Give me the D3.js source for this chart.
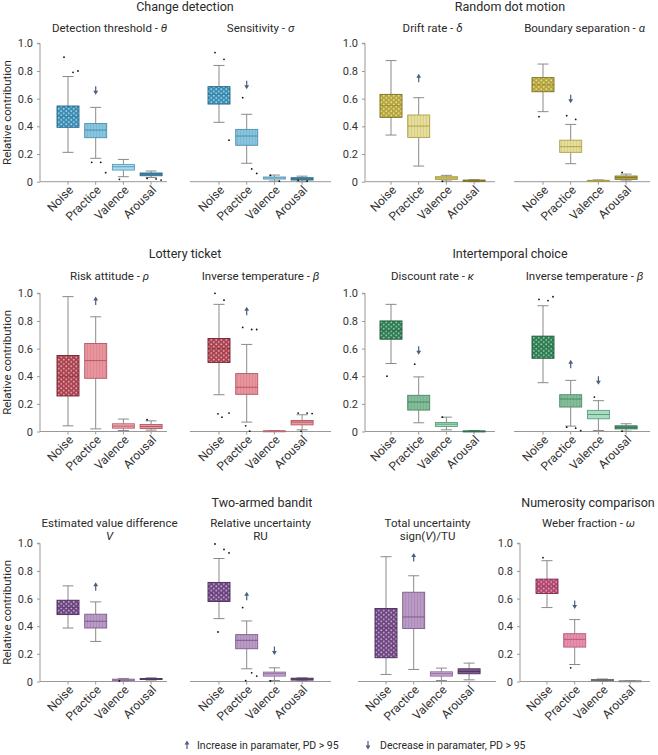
<!DOCTYPE html>
<html><head><meta charset="utf-8">
<script src="https://cdn.jsdelivr.net/npm/d3@7"></script>
<style>
body{margin:0;background:#fff;}
svg{display:block;font-family:Roboto,"Noto Sans",sans-serif;}
</style></head>
<body>
<script>
// ---------- DATA ----------
const categories = ["Noise","Practice","Valence","Arousal"];
const yTicks = [0,0.2,0.4,0.6,0.8,1.0];
const yTickLabels = ["0","0.2","0.4","0.6","0.8","1.0"];

// box stats per category: [whiskerLow, q1, median, q3, whiskerHigh]
const detectionThreshold = [[0.212,0.393,0.47,0.547,0.76],[0.169,0.318,0.373,0.42,0.537],[0.036,0.084,0.108,0.125,0.161],[0.03,0.043,0.055,0.063,0.077]];
const detectionThresholdOut = [[0.90,0.79,0.80],[0.14,0.14,0.065],[0.017],[0.024,0.02,0.012]];
const sensitivity = [[0.429,0.561,0.63,0.687,0.84],[0.133,0.263,0.33,0.378,0.487],[0.005,0.019,0.027,0.034,0.048],[0.0,0.012,0.02,0.029,0.04]];
const sensitivityOut = [[0.933,0.884,0.30],[0.607,0.092,0.06],[0.045,0.004],[0.01,0.005]];
const driftRate = [[0.337,0.465,0.55,0.631,0.875],[0.113,0.32,0.402,0.482,0.607],[0.005,0.017,0.027,0.036,0.046],[0.0,0.003,0.007,0.012,0.014]];
const driftRateOut = [[],[],[0.003],[]];
const boundarySep = [[0.506,0.65,0.70,0.752,0.85],[0.13,0.212,0.253,0.30,0.414],[0.002,0.004,0.007,0.01,0.013],[0.005,0.017,0.029,0.041,0.055]];
const boundarySepOut = [[0.47],[0.477,0.45],[],[0.067]];
const riskAttitude = [[0.041,0.257,0.40,0.55,0.976],[0.019,0.385,0.513,0.637,0.83],[0.007,0.024,0.039,0.056,0.09],[0.01,0.022,0.036,0.051,0.077]];
const riskAttitudeOut = [[],[],[],[0.085]];
const lotteryBeta = [[0.266,0.50,0.60,0.673,0.92],[0.068,0.269,0.32,0.419,0.63],[0.0,0.001,0.003,0.005,0.007],[0.012,0.048,0.068,0.08,0.121]];
const lotteryBetaOut = [[1.0,0.95,0.133,0.128,0.104],[0.753,0.738,0.738,0.041,0.002],[],[0.133,0.133,0.13,0.002]];
const discountRate = [[0.492,0.668,0.73,0.80,0.92],[0.063,0.155,0.213,0.262,0.395],[0.012,0.036,0.053,0.065,0.104],[0.0,0.001,0.002,0.004,0.007]];
const discountRateOut = [[0.40],[0.487],[0.104],[]];
const intertemporalBeta = [[0.353,0.53,0.61,0.69,0.91],[0.039,0.177,0.235,0.266,0.37],[0.007,0.092,0.123,0.153,0.223],[0.002,0.019,0.031,0.041,0.056]];
const intertemporalBetaOut = [[0.956,0.947,0.975],[0.031,0.024,0.007],[0.249],[0.002]];
const valueDiff = [[0.387,0.484,0.535,0.588,0.692],[0.29,0.387,0.436,0.487,0.576],[0.002,0.007,0.012,0.017,0.022],[0.01,0.015,0.018,0.022,0.027]];
const valueDiffOut = [[],[],[0.004],[]];
const relUncertainty = [[0.455,0.579,0.64,0.717,0.89],[0.092,0.237,0.298,0.339,0.438],[0.007,0.039,0.056,0.068,0.099],[0.004,0.01,0.017,0.024,0.027]];
const relUncertaintyOut = [[0.995,0.956,0.93,0.358],[0.535,0.063,0.039,0.007],[0.004],[]];
const totUncertainty = [[0.051,0.172,0.39,0.528,0.903],[0.087,0.383,0.467,0.646,0.765],[0.007,0.039,0.056,0.07,0.097],[0.012,0.056,0.073,0.092,0.133]];
const totUncertaintyOut = [[],[],[],[]];
const weberFraction = [[0.535,0.637,0.69,0.741,0.874],[0.123,0.249,0.305,0.346,0.448],[0.003,0.006,0.01,0.015,0.018],[0.0,0.002,0.003,0.005,0.006]];
const weberFractionOut = [[0.896],[0.099],[],[]];

// significance arrows: [category, direction, value]
const detectionThresholdArrows = [["Practice","down",0.66]];
const sensitivityArrows = [["Practice","down",0.70]];
const driftRateArrows = [["Practice","up",0.747]];
const boundarySepArrows = [["Practice","down",0.60]];
const riskAttitudeArrows = [["Practice","up",0.944]];
const lotteryBetaArrows = [["Practice","up",0.87]];
const discountRateArrows = [["Practice","down",0.588]];
const intertemporalBetaArrows = [["Practice","up",0.487],["Valence","down",0.37]];
const valueDiffArrows = [["Practice","up",0.685]];
const relUncertaintyArrows = [["Practice","up",0.617],["Valence","down",0.225]];
const totUncertaintyArrows = [["Practice","up",0.898]];
const weberFractionArrows = [["Practice","down",0.557]];

const taskTitles = ["Change detection","Random dot motion","Lottery ticket","Intertemporal choice","Two-armed bandit","Numerosity comparison"];
const legendLabels = ["Increase in paramater, PD > 95","Decrease in paramater, PD > 95"];

// ---------- STYLE ----------
const palettes = {
  blue:   {fill:["#3a8cb3","#88c5de","#a9dbee","#4f97b7"], stroke:["#24678a","#4d8fae","#5b9dbb","#2d6c8a"], dot:"#bfe3f2"},
  yellow: {fill:["#b5a53e","#e6de9a","#e3d77c","#c4b44c"], stroke:["#7a6d1c","#aca14e","#a79c3e","#7d7020"], dot:"#f2eba8"},
  red:    {fill:["#a8424f","#e8959e","#efa7ae","#e89ba3"], stroke:["#74202d","#b45864","#bb6571","#b45864"], dot:"#f2b9c0"},
  green:  {fill:["#2f7c52","#84bd99","#a9dcc1","#5ea87f"], stroke:["#1c5737","#4c8965","#5c9f7b","#2f6e4c"], dot:"#a8dcbd"},
  purple: {fill:["#6d4580","#b99bc5","#cbaed5","#7c5a8b"], stroke:["#48295a","#7d5a8c","#8d6a9b","#4f3260"], dot:"#d7c0e0"},
  pink:   {fill:["#b0456f","#e78dad","#c9c9c9","#c9c9c9"], stroke:["#7a2a4b","#b55a7b","#666","#888"], dot:"#f3b9cf"}
};

const W=658,H=755;
const svg=d3.select("body").append("svg").attr("width",W).attr("height",H);
const defs=svg.append("defs");
Object.entries(palettes).forEach(([k,p])=>{
  const pn=defs.append("pattern").attr("id","noise-"+k).attr("patternUnits","userSpaceOnUse").attr("width",5).attr("height",4.4);
  pn.append("rect").attr("width",5).attr("height",4.4).attr("fill",p.fill[0]);
  pn.append("circle").attr("cx",1.25).attr("cy",1.1).attr("r",0.95).attr("fill",p.dot).attr("opacity",0.85);
  pn.append("circle").attr("cx",3.75).attr("cy",3.3).attr("r",0.95).attr("fill",p.dot).attr("opacity",0.85);
  const pp=defs.append("pattern").attr("id","prac-"+k).attr("patternUnits","userSpaceOnUse").attr("width",3).attr("height",4);
  pp.append("rect").attr("width",3).attr("height",4).attr("fill",p.fill[1]);
  pp.append("rect").attr("x",0).attr("width",0.7).attr("height",4).attr("fill",p.stroke[1]).attr("opacity",0.35);
});

const rows=[{top:43.3,bottom:181.7},{top:293.3,bottom:431.5},{top:543.3,bottom:681.5}];
const panels=[
  {row:0,data:detectionThreshold,out:detectionThresholdOut,arr:detectionThresholdArrows,pal:"blue",axis:true,x0:40,x1:167,nx:68,sub:[["Detection threshold - ",["θ"]]]},
  {row:0,data:sensitivity,out:sensitivityOut,arr:sensitivityArrows,pal:"blue",axis:false,x0:190,x1:331,nx:219,sub:[["Sensitivity - ",["σ"]]]},
  {row:0,data:driftRate,out:driftRateOut,arr:driftRateArrows,pal:"yellow",axis:true,x0:365,x1:495,nx:391,sub:[["Drift rate - ",["δ"]]]},
  {row:0,data:boundarySep,out:boundarySepOut,arr:boundarySepArrows,pal:"yellow",axis:false,x0:514,x1:650,nx:543,sub:[["Boundary separation - ",["α"]]]},
  {row:1,data:riskAttitude,out:riskAttitudeOut,arr:riskAttitudeArrows,pal:"red",axis:true,x0:40,x1:167,nx:68,sub:[["Risk attitude - ",["ρ"]]]},
  {row:1,data:lotteryBeta,out:lotteryBetaOut,arr:lotteryBetaArrows,pal:"red",axis:false,x0:190,x1:331,nx:219,sub:[["Inverse temperature - ",["β"]]]},
  {row:1,data:discountRate,out:discountRateOut,arr:discountRateArrows,pal:"green",axis:true,x0:365,x1:495,nx:391,sub:[["Discount rate - ",["κ"]]]},
  {row:1,data:intertemporalBeta,out:intertemporalBetaOut,arr:intertemporalBetaArrows,pal:"green",axis:false,x0:514,x1:650,nx:543,sub:[["Inverse temperature - ",["β"]]]},
  {row:2,data:valueDiff,out:valueDiffOut,arr:valueDiffArrows,pal:"purple",axis:true,x0:40,x1:167,nx:68,sub:[["Estimated value difference"],["",["V"]]]},
  {row:2,data:relUncertainty,out:relUncertaintyOut,arr:relUncertaintyArrows,pal:"purple",axis:false,x0:190,x1:331,nx:219,sub:[["Relative uncertainty"],["RU"]]},
  {row:2,data:totUncertainty,out:totUncertaintyOut,arr:totUncertaintyArrows,pal:"purple",axis:false,x0:358,x1:496,nx:386,sub:[["Total uncertainty"],["sign(",["V"],")/TU"]]},
  {row:2,data:weberFraction,out:weberFractionOut,arr:weberFractionArrows,pal:"pink",axis:true,x0:520,x1:650,nx:547,sub:[["Weber fraction - ",["ω"]]]}
];
const titlePos=[{x:185,y:11},{x:510,y:11},{x:185,y:258},{x:510,y:258},{x:262,y:507},{x:588,y:507}];
const subY=[32,280,527];
const step=27.7, boxW=22, capW=11;

taskTitles.forEach((t,i)=>{
  svg.append("text").attr("x",titlePos[i].x).attr("y",titlePos[i].y).attr("text-anchor","middle")
    .attr("font-size",12.5).attr("fill","#2a2a2a").text(t);
});

function addRich(textSel, parts){
  parts.forEach(p=>{
    if(Array.isArray(p)) textSel.append("tspan").attr("font-style","italic").text(p[0]);
    else textSel.append("tspan").text(p);
  });
}

function arrowPath(g,x,y,dir){
  const c="#4b5d80";
  const s=dir==="up"?-1:1;
  g.append("line").attr("x1",x).attr("x2",x).attr("y1",y-4*s).attr("y2",y+1*s).attr("stroke",c).attr("stroke-width",1.2);
  g.append("path").attr("d",`M${x-2.4},${y+0.5*s} L${x+2.4},${y+0.5*s} L${x},${y+4.5*s} Z`).attr("fill",c);
}

panels.forEach(p=>{
  const r=rows[p.row];
  const y=d3.scaleLinear().domain([0,1]).range([r.bottom,r.top]);
  const x=d3.scalePoint().domain(categories).range([p.nx,p.nx+3*step]);
  const pal=palettes[p.pal];
  const g=svg.append("g");
  const cx=p.nx+1.5*step;
  p.sub.forEach((line,li)=>{
    const t=g.append("text").attr("x",cx).attr("y",subY[p.row]+li*12.5).attr("text-anchor","middle")
      .attr("font-size",11.5).attr("fill","#2a2a2a");
    addRich(t,line);
  });
  if(p.axis){
    const ax=g.append("g").attr("transform",`translate(${p.x0},0)`)
      .call(d3.axisLeft(y).tickValues(yTicks).tickFormat((d,i)=>yTickLabels[i]).tickSize(3).tickPadding(4));
    ax.select(".domain").attr("stroke","#999").attr("d",`M-3,${r.top}H0V${r.bottom}`);
    ax.selectAll(".tick line").attr("stroke","#999");
    ax.selectAll(".tick text").attr("font-size",11).attr("fill","#333").attr("font-family","Roboto,'Noto Sans',sans-serif");
    if(p.x0<100){
      g.append("text").attr("transform",`translate(11,${(r.top+r.bottom)/2}) rotate(-90)`).attr("text-anchor","middle")
        .attr("font-size",11.5).attr("fill","#2a2a2a").text("Relative contribution");
    }
  }
  g.append("line").attr("x1",p.x0).attr("x2",p.x1).attr("y1",r.bottom).attr("y2",r.bottom).attr("stroke","#999").attr("stroke-width",1);
  categories.forEach(c=>{
    g.append("line").attr("x1",x(c)).attr("x2",x(c)).attr("y1",r.bottom).attr("y2",r.bottom+3).attr("stroke","#999");
    g.append("text").attr("transform",`translate(${x(c)+6},${r.bottom+9}) rotate(-45)`).attr("text-anchor","end")
      .attr("font-size",12).attr("fill","#333").text(c);
  });
  p.data.forEach((s,i)=>{
    const c=categories[i], xc=x(c);
    const [lo,q1,md,q3,hi]=s;
    g.append("line").attr("x1",xc).attr("x2",xc).attr("y1",y(hi)).attr("y2",y(q3)).attr("stroke","#8a8a8a").attr("stroke-width",1);
    g.append("line").attr("x1",xc).attr("x2",xc).attr("y1",y(q1)).attr("y2",y(lo)).attr("stroke","#8a8a8a").attr("stroke-width",1);
    g.append("line").attr("x1",xc-capW/2).attr("x2",xc+capW/2).attr("y1",y(hi)).attr("y2",y(hi)).attr("stroke","#8a8a8a");
    g.append("line").attr("x1",xc-capW/2).attr("x2",xc+capW/2).attr("y1",y(lo)).attr("y2",y(lo)).attr("stroke","#8a8a8a");
    const fill=i===0?`url(#noise-${p.pal})`:i===1?`url(#prac-${p.pal})`:pal.fill[i];
    g.append("rect").attr("x",xc-boxW/2).attr("width",boxW).attr("y",y(q3)).attr("height",Math.max(1,y(q1)-y(q3)))
      .attr("fill",fill).attr("stroke",pal.stroke[i]).attr("stroke-width",0.9);
    g.append("line").attr("x1",xc-boxW/2).attr("x2",xc+boxW/2).attr("y1",y(md)).attr("y2",y(md))
      .attr("stroke",pal.stroke[i]).attr("stroke-width",1).attr("opacity",i===0?0.4:1);
    p.out[i].forEach((v,j)=>{
      const off=[-4,5,10,-1,3][j%5];
      g.append("circle").attr("cx",xc+off).attr("cy",y(v)).attr("r",0.9).attr("fill","#111");
    });
  });
  p.arr.forEach(a=>arrowPath(g,x(a[0]),y(a[2]),a[1]));
});

const lg=svg.append("g");
arrowPath(lg,187,745,"up");
lg.append("text").attr("x",197).attr("y",749).attr("font-size",10.5).attr("fill","#2a2a2a").text(legendLabels[0]);
arrowPath(lg,368,745,"down");
lg.append("text").attr("x",380).attr("y",749).attr("font-size",10.5).attr("fill","#2a2a2a").text(legendLabels[1]);
</script>
</body></html>
